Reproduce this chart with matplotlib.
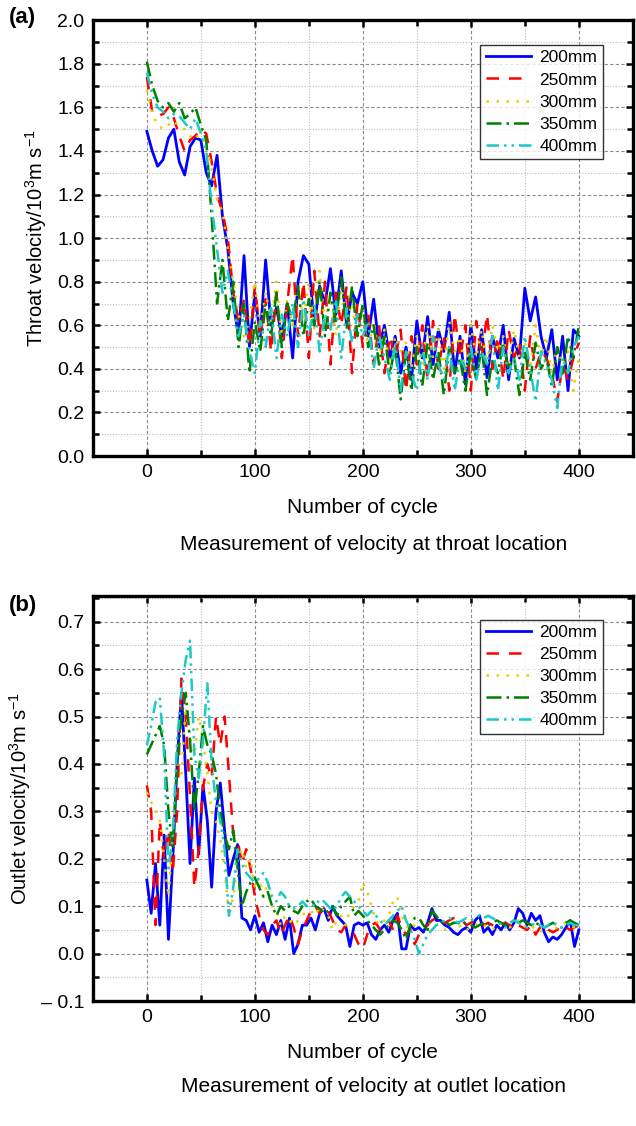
import matplotlib
matplotlib.use("Agg")
import matplotlib.pyplot as plt
import numpy as np
from matplotlib.ticker import MultipleLocator, FixedLocator, FixedFormatter

plt.rcParams["font.family"] = ["Liberation Sans", "DejaVu Sans"]
plt.rcParams["mathtext.fontset"] = "custom"
plt.rcParams["mathtext.rm"] = "Liberation Sans"
plt.rcParams["mathtext.it"] = "Liberation Sans:italic"

# ---- data, panel (a): throat velocity, one value every 5 cycles ----
throat_200 = [1.49, 1.40, 1.33, 1.36, 1.46, 1.50, 1.35, 1.29, 1.42, 1.46,
              1.45, 1.30, 1.24, 1.38, 1.10, 0.95, 0.70, 0.55, 0.92, 0.50,
              0.75, 0.55, 0.90, 0.60, 0.68, 0.55, 0.70, 0.45, 0.80, 0.92,
              0.88, 0.60, 0.78, 0.70, 0.86, 0.65, 0.85, 0.60, 0.75, 0.70,
              0.80, 0.55, 0.72, 0.50, 0.60, 0.45, 0.55, 0.38, 0.50, 0.35,
              0.62, 0.45, 0.64, 0.42, 0.58, 0.48, 0.66, 0.38, 0.55, 0.33,
              0.60, 0.40, 0.58, 0.36, 0.55, 0.45, 0.60, 0.35, 0.54, 0.45,
              0.77, 0.62, 0.73, 0.55, 0.45, 0.58, 0.35, 0.55, 0.30, 0.58,
              0.55]
throat_250 = [1.74, 1.58, 1.56, 1.57, 1.60, 1.55, 1.47, 1.40, 1.45, 1.47,
              1.50, 1.48, 1.35, 1.20, 1.12, 1.00, 0.75, 0.62, 0.72, 0.50,
              0.78, 0.55, 0.72, 0.48, 0.75, 0.45, 0.70, 0.92, 0.55, 0.80,
              0.45, 0.85, 0.55, 0.80, 0.42, 0.75, 0.60, 0.78, 0.38, 0.70,
              0.50, 0.65, 0.42, 0.60, 0.38, 0.55, 0.45, 0.58, 0.30, 0.55,
              0.42, 0.60, 0.35, 0.62, 0.40, 0.55, 0.30, 0.65, 0.45, 0.60,
              0.30, 0.62, 0.45, 0.65, 0.40, 0.55, 0.35, 0.58, 0.45, 0.52,
              0.30, 0.55, 0.40, 0.48, 0.45, 0.38, 0.25, 0.42, 0.35, 0.45,
              0.52]
throat_300 = [1.68, 1.57, 1.52, 1.50, 1.52, 1.54, 1.51, 1.50, 1.47, 1.45,
              1.50, 1.42, 1.32, 1.18, 1.12, 0.95, 0.80, 0.65, 0.55, 0.62,
              0.80, 0.58, 0.75, 0.62, 0.80, 0.55, 0.72, 0.60, 0.78, 0.62,
              0.80, 0.58, 0.85, 0.60, 0.75, 0.55, 0.78, 0.62, 0.70, 0.55,
              0.68, 0.50, 0.62, 0.45, 0.58, 0.40, 0.55, 0.48, 0.52, 0.40,
              0.55, 0.42, 0.60, 0.45, 0.58, 0.40, 0.62, 0.48, 0.55, 0.38,
              0.60, 0.45, 0.58, 0.42, 0.60, 0.48, 0.55, 0.40, 0.58, 0.45,
              0.52, 0.40, 0.60, 0.45, 0.55, 0.38, 0.50, 0.42, 0.48, 0.30,
              0.45]
throat_350 = [1.81, 1.70, 1.63, 1.60, 1.62, 1.58, 1.62, 1.55, 1.57, 1.60,
              1.52, 1.45, 1.10, 0.70, 0.90, 0.62, 0.80, 0.50, 0.70, 0.38,
              0.62, 0.48, 0.70, 0.55, 0.75, 0.50, 0.70, 0.62, 0.78, 0.55,
              0.72, 0.60, 0.80, 0.55, 0.75, 0.62, 0.82, 0.58, 0.78, 0.55,
              0.70, 0.50, 0.60, 0.42, 0.55, 0.38, 0.50, 0.26, 0.48, 0.30,
              0.50, 0.32, 0.52, 0.35, 0.48, 0.28, 0.50, 0.38, 0.45, 0.30,
              0.48, 0.35, 0.50, 0.28, 0.45, 0.38, 0.52, 0.40, 0.45, 0.28,
              0.48, 0.35, 0.52, 0.40, 0.45, 0.32, 0.50, 0.38, 0.55, 0.45,
              0.60]
throat_400 = [1.76, 1.66, 1.60, 1.58, 1.55, 1.57, 1.56, 1.53, 1.50, 1.55,
              1.48, 1.40, 1.15, 0.95, 0.75, 0.85, 0.70, 0.55, 0.65, 0.48,
              0.38, 0.62, 0.50, 0.68, 0.45, 0.65, 0.55, 0.70, 0.50, 0.72,
              0.55, 0.70, 0.48, 0.65, 0.58, 0.72, 0.45, 0.68, 0.52, 0.65,
              0.55, 0.62, 0.40, 0.55, 0.45, 0.35, 0.52, 0.30, 0.48, 0.38,
              0.30, 0.50, 0.35, 0.55, 0.42, 0.35, 0.50, 0.30, 0.45, 0.40,
              0.50, 0.35, 0.48, 0.42, 0.55, 0.30, 0.50, 0.38, 0.45, 0.35,
              0.55, 0.40, 0.25, 0.48, 0.42, 0.35, 0.22, 0.45, 0.38, 0.50,
              0.55]

# ---- data, panel (b): outlet velocity, one value every 4 cycles ----
outlet_200 = [0.155, 0.085, 0.19, 0.06, 0.25, 0.03, 0.20, 0.40, 0.55, 0.38,
              0.19, 0.37, 0.21, 0.355, 0.28, 0.14, 0.30, 0.36, 0.26, 0.165,
              0.20, 0.23, 0.075, 0.07, 0.05, 0.08, 0.045, 0.065, 0.025, 0.06,
              0.04, 0.07, 0.03, 0.075, 0.0, 0.02, 0.06, 0.06, 0.075, 0.05,
              0.085, 0.095, 0.07, 0.10, 0.08, 0.07, 0.06, 0.015, 0.06, 0.065,
              0.06, 0.065, 0.04, 0.03, 0.05, 0.06, 0.045, 0.07, 0.085, 0.01,
              0.01, 0.06, 0.05, 0.055, 0.045, 0.065, 0.095, 0.07, 0.07, 0.06,
              0.055, 0.045, 0.04, 0.05, 0.055, 0.045, 0.07, 0.08, 0.045, 0.055,
              0.04, 0.06, 0.05, 0.065, 0.05, 0.065, 0.095, 0.085, 0.06, 0.085,
              0.07, 0.08, 0.045, 0.025, 0.035, 0.03, 0.04, 0.055, 0.07, 0.015,
              0.05]
outlet_250 = [0.355, 0.30, 0.06, 0.28, 0.20, 0.26, 0.17, 0.30, 0.58, 0.50,
              0.33, 0.14, 0.22, 0.35, 0.40, 0.37, 0.50, 0.44, 0.50, 0.38,
              0.25, 0.24, 0.19, 0.22, 0.18, 0.12, 0.08, 0.05, 0.04, 0.06,
              0.07, 0.04, 0.06, 0.08, 0.055, 0.02, 0.05, 0.07, 0.09, 0.10,
              0.085, 0.10, 0.09, 0.07, 0.05, 0.045, 0.06, 0.05, 0.04, 0.02,
              0.01, 0.04, 0.06, 0.065, 0.05, 0.06, 0.07, 0.05, 0.08, 0.055,
              0.04, 0.05, 0.02, 0.04, 0.05, 0.06, 0.07, 0.075, 0.07, 0.065,
              0.07, 0.075, 0.075, 0.07, 0.06, 0.065, 0.07, 0.065, 0.06, 0.065,
              0.06, 0.055, 0.06, 0.065, 0.06, 0.05, 0.06, 0.055, 0.05, 0.06,
              0.04, 0.055, 0.06, 0.05, 0.045, 0.05, 0.06, 0.055, 0.05, 0.055,
              0.06]
outlet_300 = [0.34, 0.32, 0.30, 0.28, 0.20, 0.12, 0.25, 0.40, 0.38, 0.52,
              0.45, 0.42, 0.50, 0.45, 0.38, 0.30, 0.28, 0.24, 0.18, 0.08,
              0.12, 0.20, 0.22, 0.18, 0.20, 0.14, 0.16, 0.12, 0.15, 0.10,
              0.09, 0.06, 0.08, 0.07, 0.06, 0.07, 0.08, 0.09, 0.09, 0.08,
              0.10, 0.09, 0.08, 0.05, 0.07, 0.08, 0.06, 0.09, 0.10, 0.11,
              0.15, 0.13, 0.10, 0.07, 0.06, 0.07, 0.08, 0.11, 0.12, 0.08,
              0.06, 0.05, 0.06, 0.07, 0.065, 0.06, 0.07, 0.06, 0.055, 0.05,
              0.06, 0.065, 0.055, 0.06, 0.05, 0.055, 0.06, 0.065, 0.06, 0.055,
              0.05, 0.06, 0.065, 0.06, 0.055, 0.06, 0.07, 0.06, 0.055, 0.06,
              0.05, 0.045, 0.055, 0.06, 0.05, 0.055, 0.06, 0.065, 0.06, 0.055,
              0.06]
outlet_350 = [0.42, 0.44, 0.46, 0.48, 0.44, 0.30, 0.22, 0.40, 0.50, 0.55,
              0.45, 0.30, 0.38, 0.48, 0.44, 0.42, 0.38, 0.30, 0.25, 0.22,
              0.26, 0.18, 0.10, 0.13, 0.15, 0.16, 0.14, 0.12, 0.13, 0.10,
              0.08, 0.10, 0.09, 0.10, 0.09, 0.085, 0.10, 0.11, 0.115, 0.10,
              0.095, 0.085, 0.09, 0.10, 0.08, 0.10, 0.11, 0.12, 0.08, 0.09,
              0.08, 0.07, 0.06, 0.05, 0.04, 0.05, 0.06, 0.07, 0.065, 0.05,
              0.03, 0.06, 0.075, 0.075, 0.06, 0.05, 0.09, 0.08, 0.065, 0.07,
              0.06, 0.065, 0.065, 0.06, 0.065, 0.06, 0.055, 0.06, 0.065, 0.06,
              0.065, 0.07, 0.065, 0.06, 0.065, 0.07, 0.065, 0.07, 0.065, 0.06,
              0.065, 0.06, 0.055, 0.06, 0.065, 0.06, 0.055, 0.065, 0.07, 0.065,
              0.06]
outlet_400 = [0.44, 0.48, 0.53, 0.54, 0.42, 0.18, 0.25, 0.45, 0.55, 0.62,
              0.66, 0.42, 0.37, 0.45, 0.57, 0.40, 0.32, 0.28, 0.22, 0.08,
              0.14, 0.22, 0.19, 0.17, 0.16, 0.15, 0.16, 0.17, 0.15, 0.12,
              0.11, 0.13, 0.12, 0.10, 0.095, 0.10, 0.11, 0.10, 0.105, 0.10,
              0.115, 0.11, 0.10, 0.09, 0.10, 0.12, 0.13, 0.12, 0.11, 0.10,
              0.09, 0.08, 0.09, 0.08, 0.07, 0.06, 0.07, 0.08, 0.09, 0.10,
              0.07, 0.05, 0.03, 0.0, 0.02, 0.04, 0.05, 0.06, 0.065, 0.07,
              0.075, 0.07, 0.065, 0.07, 0.075, 0.07, 0.075, 0.08, 0.075, 0.08,
              0.075, 0.07, 0.06, 0.055, 0.065, 0.07, 0.065, 0.06, 0.055, 0.06,
              0.065, 0.06, 0.055, 0.06, 0.065, 0.06, 0.055, 0.06, 0.065, 0.06,
              0.06]

labels = ["200mm", "250mm", "300mm", "350mm", "400mm"]
colors = ["#0000FF", "#FF0000", "#E8CF00", "#008000", "#1CC8C8"]
styles = ["-", (0, (5, 4)), (0, (1, 3)), (0, (6, 2, 1, 2)), (0, (5, 2, 1, 2, 1, 2))]
widths = [2.0, 1.8, 1.8, 1.8, 1.8]


def style_axes(ax, ylim, ymajor, yminor):
    ax.set_xlim(-50, 450)
    ax.set_ylim(*ylim)
    ax.xaxis.set_major_locator(FixedLocator([0, 100, 200, 300, 400]))
    ax.xaxis.set_minor_locator(FixedLocator([50, 150, 250, 350]))
    ax.yaxis.set_major_locator(MultipleLocator(ymajor))
    ax.yaxis.set_minor_locator(MultipleLocator(yminor))
    ax.grid(which="major", color="#8c8c8c", linestyle=(0, (3, 2)), linewidth=0.8)
    ax.grid(which="minor", color="#bdbdbd", linestyle=(0, (1, 1.5)), linewidth=0.8)
    ax.set_axisbelow(True)
    ax.tick_params(which="both", direction="in", top=True, right=True,
                   width=1.8, labelsize=14, pad=6)
    ax.tick_params(which="major", length=5)
    ax.tick_params(which="minor", length=4)
    for s in ax.spines.values():
        s.set_linewidth(2.4)
    ax.set_xlabel("Number of cycle", fontsize=15, labelpad=12)


def draw(ax, series):
    for vals, lab, c, ls, lw in zip(series, labels, colors, styles, widths):
        xs = np.linspace(0, 400, len(vals))
        ax.plot(xs, vals, color=c, linestyle=ls, linewidth=lw, label=lab)


def add_legend(ax, top):
    leg = ax.legend(loc="upper right", bbox_to_anchor=(0.944, top), fontsize=12.5,
                    frameon=True, fancybox=False, edgecolor="black", handlelength=2.6,
                    labelspacing=0.4, borderpad=0.3, handletextpad=0.5, borderaxespad=0)
    leg.get_frame().set_linewidth(1.0)


fig = plt.figure(figsize=(6.36, 11.26), dpi=100)

# panel (a)
ax1 = fig.add_axes([0.146, 0.595, 0.849, 0.387])
draw(ax1, [throat_200, throat_250, throat_300, throat_350, throat_400])
style_axes(ax1, (0, 2.0), 0.2, 0.1)
ax1.yaxis.set_major_formatter(plt.FuncFormatter(lambda v, p: f"{v:.1f}"))
ax1.set_ylabel("Throat velocity/10$^{3}$m s$^{-1}$", fontsize=14.5, labelpad=6)
add_legend(ax1, 0.943)

# panel (b)
ax2 = fig.add_axes([0.146, 0.111, 0.849, 0.360])
draw(ax2, [outlet_200, outlet_250, outlet_300, outlet_350, outlet_400])
style_axes(ax2, (-0.1, 0.755), 0.1, 0.05)
yt = [-0.1, 0.0, 0.1, 0.2, 0.3, 0.4, 0.5, 0.6, 0.7]
ax2.yaxis.set_major_locator(FixedLocator(yt))
ax2.yaxis.set_major_formatter(FixedFormatter(["\u2013 0.1"] + [f"{v:.1f}" for v in yt[1:]]))
ax2.set_ylabel("Outlet velocity/10$^{3}$m s$^{-1}$", fontsize=14.5, labelpad=6)
add_legend(ax2, 0.941)

fig.text(0.014, 1 - 18 / 1126, "(a)", fontsize=16, fontweight="bold", va="center")
fig.text(0.014, 1 - 606 / 1126, "(b)", fontsize=16, fontweight="bold", va="center")
fig.text(0.587, 1 - 545 / 1126, "Measurement of velocity at throat location",
         fontsize=15, ha="center", va="center")
fig.text(0.587, 1 - 1086 / 1126, "Measurement of velocity at outlet location",
         fontsize=15, ha="center", va="center")

fig.savefig("out.png", dpi=100)
